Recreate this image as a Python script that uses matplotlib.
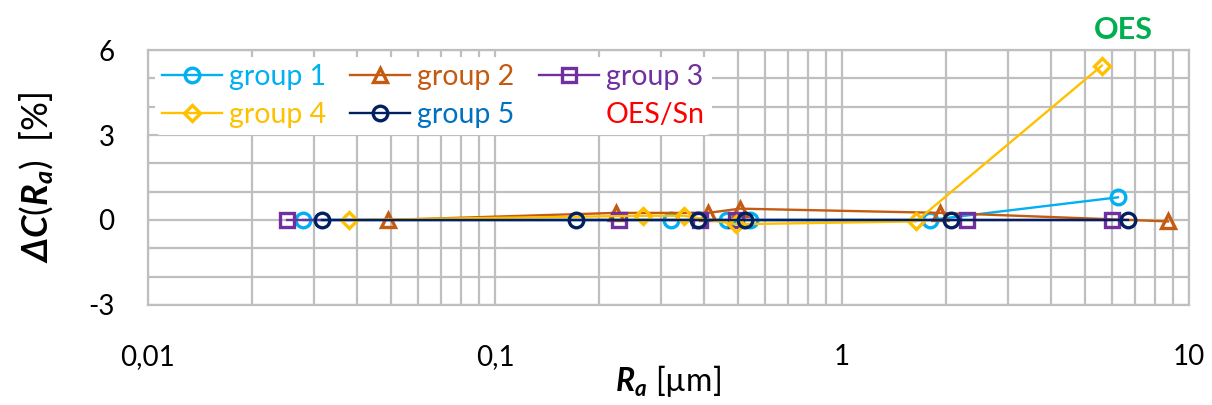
import matplotlib
matplotlib.use('Agg')
import matplotlib.pyplot as plt
from matplotlib.lines import Line2D
from matplotlib.ticker import FixedLocator, FixedFormatter, LogLocator, NullFormatter

plt.rcParams['font.family'] = ['Lato', 'DejaVu Sans']
plt.rcParams['mathtext.fontset'] = 'custom'
plt.rcParams['mathtext.rm'] = 'Lato'
plt.rcParams['mathtext.it'] = 'Lato:italic'
plt.rcParams['mathtext.bf'] = 'Lato:bold'
plt.rcParams['mathtext.bfit'] = 'Lato:bold:italic'

# data (Ra in um, dC in %)
g1_x = [0.0280, 0.322, 0.466, 0.543, 1.79, 6.24]
g1_y = [0, 0, 0, 0, 0, 0.8]
g2_x = [0.0492, 0.223, 0.411, 0.508, 1.92, 8.70]
g2_y = [0, 0.25, 0.25, 0.4, 0.25, -0.05]
g3_x = [0.0252, 0.228, 0.390, 0.495, 2.29, 6.0]
g3_y = [0, 0, 0, 0, 0, 0]
g4_x = [0.0380, 0.267, 0.350, 0.495, 1.635, 5.61]
g4_y = [0, 0.15, 0.15, -0.15, -0.05, 5.45]
g5_x = [0.0317, 0.171, 0.385, 0.525, 2.06, 6.67]
g5_y = [0, 0, 0, 0, 0, 0]

names = ['group 1', 'group 2', 'group 3', 'group 4', 'group 5']
colors = ['#00B0F0', '#C55A11', '#7030A0', '#FFC000', '#002060']
text_colors = ['#00B0F0', '#C55A11', '#7030A0', '#FFC000', '#0070C0']
markers = ['o', '^', 's', 'D', 'o']
msizes = [10.5, 10.5, 10.5, 8.5, 10.5]

xticks = [0.01, 0.1, 1, 10]
xticklabels = ['0,01', '0,1', '1', '10']
yticks = [-3, 0, 3, 6]

fig = plt.figure(figsize=(12.12, 4.05), dpi=100)
ax = fig.add_axes([0.1221, 0.247, 0.8589, 0.6295])

series = [(g1_x, g1_y), (g2_x, g2_y), (g3_x, g3_y), (g4_x, g4_y), (g5_x, g5_y)]
handles = []
for i, (xs, ys) in enumerate(series):
    h, = ax.plot(xs, ys, color=colors[i], lw=1.7, marker=markers[i], ms=msizes[i],
                 mfc='none', mec=colors[i], mew=2.4, label=names[i], zorder=3 + i)
    handles.append(h)

ax.set_xscale('log')
ax.set_xlim(0.01, 10)
ax.set_ylim(-3, 6)
ax.xaxis.set_major_locator(FixedLocator(xticks))
ax.xaxis.set_major_formatter(FixedFormatter(xticklabels))
ax.xaxis.set_minor_locator(LogLocator(base=10, subs=range(2, 10)))
ax.xaxis.set_minor_formatter(NullFormatter())
ax.set_yticks(range(-3, 7))
ax.set_yticklabels([str(v) if v in yticks else '' for v in range(-3, 7)])
ax.grid(True, which='both', color='#BFBFBF', lw=1.6)
ax.tick_params(which='both', length=0, labelsize=20, colors='black')
ax.tick_params(axis='y', pad=24)
ax.tick_params(axis='x', pad=28)
for s in ax.spines.values():
    s.set_color('#BFBFBF')
    s.set_linewidth(1.6)

ax.set_xlabel(r'$\mathbfit{R}_{\mathbfit{a}}$ [µm]', fontsize=23, va='center')
ax.xaxis.set_label_coords(0.5, -0.30)
ax.set_ylabel(r'$\mathbfit{ΔC}(\mathbfit{R}_{\mathbfit{a}})$  [%]', fontsize=26, va='center')
ax.yaxis.set_label_coords(-0.107, 0.5)

# OES label above the outlier point
ax.annotate('OES', xy=(g4_x[-1], g4_y[-1]), xytext=(22, 36), textcoords='offset pixels',
            ha='center', va='center', fontsize=22, fontweight='bold', color='#00B050',
            annotation_clip=False)

empty = Line2D([], [], color='none', marker='none')
leg_handles = [handles[0], handles[3], handles[1], handles[4], handles[2], empty]
leg_labels = [names[0], names[3], names[1], names[4], names[2], 'OES/Sn']
leg_colors = [text_colors[0], text_colors[3], text_colors[1], text_colors[4], text_colors[2], '#FF0000']
leg = ax.legend(leg_handles, leg_labels, ncol=3, loc='upper left', bbox_to_anchor=(0.0, 1.0),
                fontsize=20.5, frameon=True, framealpha=1, edgecolor='none', facecolor='white',
                handlelength=2.1, handletextpad=0.25, columnspacing=0.85, labelspacing=0.4,
                borderaxespad=0.25, borderpad=0.25)
for t, c in zip(leg.get_texts(), leg_colors):
    t.set_color(c)
leg.set_zorder(20)

fig.savefig('out.png', dpi=100)
